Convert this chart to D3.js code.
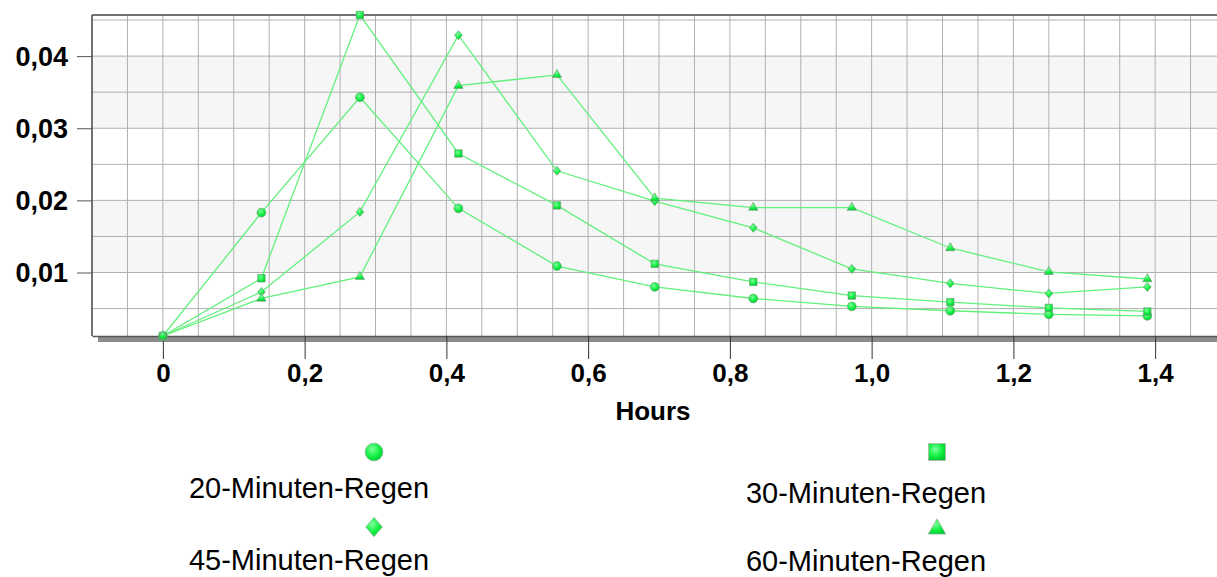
<!DOCTYPE html>
<html>
<head>
<meta charset="utf-8">
<script src="https://cdn.jsdelivr.net/npm/d3@7"></script>
<style>
  body { margin: 0; background: #fff; }
  svg { display: block; font-family: "Liberation Sans", Arial, sans-serif; }
</style>
</head>
<body>
<svg id="chart" width="1217" height="577"></svg>
<script>
const width = 1217;
const height = 577;

// Données
const hours = [0, 0.139, 0.278, 0.417, 0.556, 0.694, 0.833, 0.972, 1.111, 1.25, 1.389];
const names = ["20-Minuten-Regen", "30-Minuten-Regen", "45-Minuten-Regen", "60-Minuten-Regen"];
const rain20 = [0.0012, 0.0183, 0.0343, 0.0189, 0.0109, 0.0080, 0.0064, 0.0053, 0.0047, 0.0042, 0.0040];
const rain30 = [0.0012, 0.0092, 0.0457, 0.0265, 0.0193, 0.0112, 0.0087, 0.0068, 0.0059, 0.0051, 0.0046];
const rain45 = [0.0012, 0.0073, 0.0184, 0.0429, 0.0241, 0.0199, 0.0162, 0.0105, 0.0085, 0.0071, 0.0080];
const rain60 = [0.0012, 0.0064, 0.0094, 0.0359, 0.0374, 0.0203, 0.0190, 0.0190, 0.0134, 0.0101, 0.0091];
const xTicks = [0, 0.2, 0.4, 0.6, 0.8, 1.0, 1.2, 1.4];
const yTicks = [0.01, 0.02, 0.03, 0.04];
const xTitle = "Hours";

const seriesValues = [rain20, rain30, rain45, rain60];

const margin = { left: 92, top: 15, right: -9, bottom: 241 };
const x0 = margin.left, x1 = width - margin.right;
const y0 = margin.top, y1 = height - margin.bottom;

const svg = d3.select("#chart");

const x = d3.scaleLinear().domain([-0.1, 1.5]).range([x0, x1]);
const y = d3.scaleLinear().domain(d3.extent(seriesValues.flat())).range([y1, y0]);

// Losange élargi comme dans l'original
const diamond = {
  draw(ctx, size) {
    const h = Math.sqrt(size) * 0.56, w = h * 0.86;
    ctx.moveTo(0, -h); ctx.lineTo(w, 0); ctx.lineTo(0, h); ctx.lineTo(-w, 0); ctx.closePath();
  }
};
const shapes = [d3.symbolCircle, d3.symbolSquare, diamond, d3.symbolTriangle];

// Dégradé vert des marqueurs
const defs = svg.append("defs");
const grad = defs.append("radialGradient").attr("id", "green").attr("cx", "40%").attr("cy", "35%").attr("r", "70%");
grad.append("stop").attr("offset", "0%").attr("stop-color", "#7dff9a");
grad.append("stop").attr("offset", "60%").attr("stop-color", "#10f040");
grad.append("stop").attr("offset", "100%").attr("stop-color", "#00c830");
defs.append("clipPath").attr("id", "plot-clip")
  .append("rect").attr("x", x0).attr("y", y0 - 6).attr("width", x1 - x0).attr("height", y1 - y0 + 12);

// Bandes grises alternées
const bands = [[0.01, 0.02], [0.03, 0.04]];
svg.append("g").selectAll("rect")
  .data(bands)
  .enter().append("rect")
  .attr("x", x0).attr("width", x1 - x0)
  .attr("y", d => y(d[1])).attr("height", d => y(d[0]) - y(d[1]))
  .attr("fill", "#f6f6f6");

// Grille
const grid = svg.append("g").attr("stroke", "#b0b0b0").attr("stroke-width", 1);
grid.selectAll(".vx")
  .data(d3.range(-0.05, 1.5, 0.05))
  .enter().append("line")
  .attr("x1", d => x(d)).attr("x2", d => x(d))
  .attr("y1", y0).attr("y2", y1);
grid.selectAll(".hy")
  .data([0.005, 0.01, 0.015, 0.02, 0.025, 0.03, 0.035, 0.04, 0.045])
  .enter().append("line")
  .attr("x1", x0).attr("x2", x1)
  .attr("y1", d => y(d)).attr("y2", d => y(d));

// Cadre haut et gauche
svg.append("line").attr("x1", x0).attr("x2", x1).attr("y1", y0).attr("y2", y0)
  .attr("stroke", "#444").attr("stroke-width", 1.5);
svg.append("line").attr("x1", x0).attr("x2", x0).attr("y1", y0).attr("y2", y1)
  .attr("stroke", "#444").attr("stroke-width", 1.5);

// Axe X avec ombre
svg.append("rect").attr("x", x0 + 6).attr("y", y1 + 1).attr("width", x1 - x0).attr("height", 5)
  .attr("fill", "#8c8c8c");
const xAxis = svg.append("g")
  .attr("transform", `translate(0,${y1})`)
  .call(d3.axisBottom(x).tickValues(xTicks).tickSize(23).tickSizeOuter(0)
    .tickFormat(d => d === 0 ? "0" : d3.format(".1f")(d).replace(".", ",")));
xAxis.select(".domain").attr("stroke", "#555").attr("stroke-width", 1.5);
xAxis.selectAll(".tick line").attr("stroke", "#333");
xAxis.selectAll(".tick text")
  .attr("y", 46).attr("dy", null)
  .attr("font-size", 26).attr("font-weight", "bold").attr("fill", "#000")
  .attr("font-family", "Liberation Sans, Arial, sans-serif");

// Axe Y
const yAxis = svg.append("g")
  .attr("transform", `translate(${x0},0)`)
  .call(d3.axisLeft(y).tickValues(yTicks).tickSize(15).tickSizeOuter(0)
    .tickFormat(d => d3.format(".2f")(d).replace(".", ",")));
yAxis.select(".domain").remove();
yAxis.selectAll(".tick line").attr("stroke", "#555");
yAxis.selectAll(".tick text")
  .attr("x", -24).attr("dy", "0.35em")
  .attr("font-size", 27).attr("font-weight", "bold").attr("fill", "#000")
  .attr("font-family", "Liberation Sans, Arial, sans-serif");

svg.append("text")
  .attr("x", 653).attr("y", 420)
  .attr("text-anchor", "middle")
  .attr("font-size", 26).attr("font-weight", "bold")
  .text(xTitle);

// Courbes et marqueurs
const line = d3.line().x((d, i) => x(hours[i])).y(d => y(d));
const plot = svg.append("g").attr("clip-path", "url(#plot-clip)");

plot.selectAll(".series")
  .data(seriesValues)
  .enter().append("path")
  .attr("d", line)
  .attr("fill", "none")
  .attr("stroke", "#62f07c")
  .attr("stroke-width", 1.3);

const markerSizes = [62, 56, 66, 38];
seriesValues.forEach((vals, s) => {
  plot.append("g").selectAll("path")
    .data(vals)
    .enter().append("path")
    .attr("transform", (d, i) => `translate(${x(hours[i])},${y(d)})`)
    .attr("d", d3.symbol().type(shapes[s]).size(markerSizes[s]))
    .attr("fill", "url(#green)")
    .attr("stroke", "#7a9a80")
    .attr("stroke-width", 0.6);
});

// Légende sur deux colonnes
const legendPos = [
  { mx: 374, my: 452, tx: 309, ty: 498 },
  { mx: 937, my: 452, tx: 866, ty: 503 },
  { mx: 374, my: 527, tx: 309, ty: 570 },
  { mx: 937, my: 529, tx: 866, ty: 571 }
];
const legendSizes = [254, 289, 300, 135];

const legendItems = svg.append("g").selectAll("g")
  .data(names)
  .enter().append("g");

legendItems.append("path")
  .attr("transform", (d, i) => `translate(${legendPos[i].mx},${legendPos[i].my})`)
  .attr("d", (d, i) => d3.symbol().type(shapes[i]).size(legendSizes[i])())
  .attr("fill", "url(#green)")
  .attr("stroke", "#a8b8aa")
  .attr("stroke-width", 0.8);

legendItems.append("text")
  .attr("x", (d, i) => legendPos[i].tx)
  .attr("y", (d, i) => legendPos[i].ty)
  .attr("text-anchor", "middle")
  .attr("font-size", 29)
  .attr("fill", "#000")
  .text(d => d);
</script>
</body>
</html>
